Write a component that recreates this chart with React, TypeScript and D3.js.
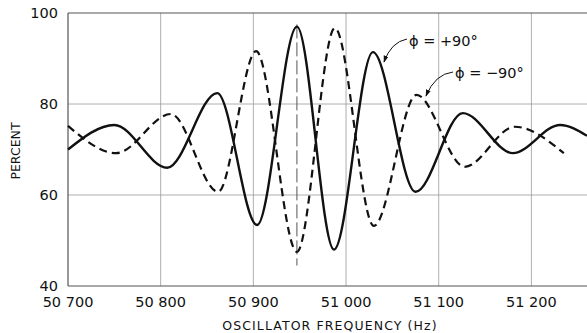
import React, { useEffect, useRef } from 'react';
import * as d3 from 'd3';

// φ = +90° (solid)
const plusFreq = [50700, 50750, 50807, 50861, 50904, 50947, 50987, 51029, 51075, 51126, 51180, 51231, 51260];
const plusPct = [70, 75.4, 66, 82.4, 53.4, 97, 48, 91.4, 60.7, 78, 69.2, 75.4, 73];

// φ = -90° (dashed)
const minusFreq = [50700, 50752, 50811, 50862, 50903, 50947, 50988, 51030, 51076, 51128, 51182, 51235];
const minusPct = [75.2, 69.2, 77.8, 60.7, 91.6, 47.5, 96.7, 53.2, 82, 66.2, 75, 69.2];

const xTicks = [50700, 50800, 50900, 51000, 51100, 51200];
const xTickLabels = ['50 700', '50 800', '50 900', '51 000', '51 100', '51 200'];
const yTicks = [40, 60, 80, 100];
const centerFreq = 50947;

const W = 587;
const H = 333;
const margin = { l: 68, r: 0, t: 13, b: 47 };
const FONT = '"DejaVu Sans", Verdana, sans-serif';

export default function App() {
  const ref = useRef<SVGSVGElement>(null);

  useEffect(() => {
    const svg = d3.select(ref.current);
    svg.selectAll('*').remove();

    const x = d3.scaleLinear().domain([50700, 51260]).range([margin.l, W - margin.r]);
    const y = d3.scaleLinear().domain([40, 100]).range([H - margin.b, margin.t]);

    const defs = svg.append('defs');
    defs.append('marker')
      .attr('id', 'arrow')
      .attr('viewBox', '0 0 10 10')
      .attr('refX', 9)
      .attr('refY', 5)
      .attr('markerWidth', 7)
      .attr('markerHeight', 7)
      .attr('orient', 'auto')
      .attr('markerUnits', 'userSpaceOnUse')
      .append('path')
      .attr('d', 'M0,1.5 L10,5 L0,8.5 Z')
      .attr('fill', '#111');

    // grid
    const grid = svg.append('g');
    grid.selectAll('.vg')
      .data(xTicks.slice(1))
      .join('line')
      .attr('x1', d => x(d)).attr('x2', d => x(d))
      .attr('y1', y(100)).attr('y2', y(40))
      .attr('stroke', '#9a9a9a').attr('stroke-width', 0.8);
    grid.selectAll('.hg')
      .data([60, 80])
      .join('line')
      .attr('x1', x(50700)).attr('x2', W)
      .attr('y1', d => y(d)).attr('y2', d => y(d))
      .attr('stroke', '#9a9a9a').attr('stroke-width', 0.8);

    // frame: top, left, bottom
    const frame = svg.append('g').attr('stroke', '#555').attr('stroke-width', 1.2);
    frame.append('line').attr('x1', x(50700)).attr('x2', W).attr('y1', y(100)).attr('y2', y(100));
    frame.append('line').attr('x1', x(50700)).attr('x2', W).attr('y1', y(40)).attr('y2', y(40));
    frame.append('line').attr('x1', x(50700)).attr('x2', x(50700)).attr('y1', y(100)).attr('y2', y(40));

    // center line
    svg.append('line')
      .attr('x1', x(centerFreq)).attr('x2', x(centerFreq))
      .attr('y1', y(97.5)).attr('y2', y(44.5))
      .attr('stroke', '#555').attr('stroke-width', 1)
      .attr('stroke-dasharray', '14,4');

    const line = d3.line<[number, number]>()
      .x(d => x(d[0]))
      .y(d => y(d[1]))
      .curve(d3.curveMonotoneX);

    svg.append('path')
      .attr('d', line(plusFreq.map((f, i) => [f, plusPct[i]] as [number, number])))
      .attr('fill', 'none').attr('stroke', '#111').attr('stroke-width', 2.4);

    svg.append('path')
      .attr('d', line(minusFreq.map((f, i) => [f, minusPct[i]] as [number, number])))
      .attr('fill', 'none').attr('stroke', '#111').attr('stroke-width', 2.2)
      .attr('stroke-dasharray', '8,5');

    // tick labels
    svg.append('g').selectAll('text')
      .data(xTicks)
      .join('text')
      .attr('x', d => x(d))
      .attr('y', y(40) + 21)
      .attr('text-anchor', 'middle')
      .attr('font-family', FONT)
      .attr('font-size', 14.5)
      .attr('fill', '#111')
      .text((d, i) => xTickLabels[i]);

    svg.append('g').selectAll('text')
      .data(yTicks)
      .join('text')
      .attr('x', x(50700) - 10)
      .attr('y', d => y(d) + 5)
      .attr('text-anchor', 'end')
      .attr('font-family', FONT)
      .attr('font-size', 14.5)
      .attr('fill', '#111')
      .text(d => String(d));

    svg.append('text')
      .attr('x', 330)
      .attr('y', 330)
      .attr('text-anchor', 'middle')
      .attr('font-family', FONT)
      .attr('font-size', 12.5)
      .attr('letter-spacing', 1.1)
      .attr('fill', '#111')
      .text('OSCILLATOR FREQUENCY (Hz)');

    svg.append('text')
      .attr('transform', 'translate(20,151) rotate(-90)')
      .attr('text-anchor', 'middle')
      .attr('font-family', FONT)
      .attr('font-size', 12.5)
      .attr('fill', '#111')
      .text('PERCENT');

    // annotations
    const ann = svg.append('g');
    ann.append('path')
      .attr('d', 'M407,39 Q391,42 384,62')
      .attr('fill', 'none').attr('stroke', '#111').attr('stroke-width', 1)
      .attr('marker-end', 'url(#arrow)');
    ann.append('text')
      .attr('x', 409).attr('y', 46)
      .attr('font-family', FONT).attr('font-size', 14.5).attr('fill', '#111')
      .text('\u03D5 = +90°');
    ann.append('path')
      .attr('d', 'M453,72 Q435,74 426,96')
      .attr('fill', 'none').attr('stroke', '#111').attr('stroke-width', 1)
      .attr('marker-end', 'url(#arrow)');
    ann.append('text')
      .attr('x', 455).attr('y', 78)
      .attr('font-family', FONT).attr('font-size', 14.5).attr('fill', '#111')
      .text('\u03D5 = \u221290°');
  }, []);

  return (
    <svg
      ref={ref}
      width={W}
      height={H}
      style={{ position: 'absolute', left: 0, top: 0, background: '#fff' }}
    />
  );
}
